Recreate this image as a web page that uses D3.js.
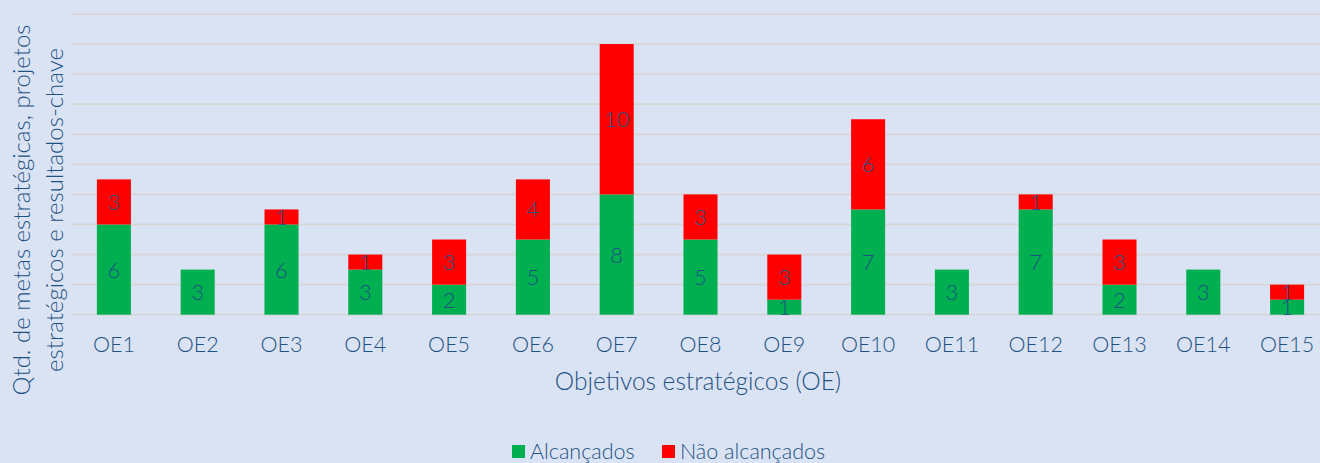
<!DOCTYPE html>
<html><head><meta charset="utf-8">
<script src="https://cdn.jsdelivr.net/npm/d3@7"></script>
<style>
html,body{margin:0;padding:0;background:#dae3f3;}
svg{display:block;}
text{font-family:Lato,"Open Sans",sans-serif;font-weight:300;fill:#1f5283;}
</style></head><body>
<svg id="c" width="1320" height="463"></svg>
<script>
const categories = ["OE1","OE2","OE3","OE4","OE5","OE6","OE7","OE8","OE9","OE10","OE11","OE12","OE13","OE14","OE15"];
const alcancados = [6,3,6,3,2,5,8,5,1,7,3,7,2,3,1];
const naoAlcancados = [3,0,1,1,3,4,10,3,3,6,0,1,3,0,1];
const seriesNames = ["Alcançados","Não alcançados"];
const gridTicks = [0,2,4,6,8,10,12,14,16,18,20];

const colors = ["#00b050","#ff0000"];
const svg = d3.select("#c");
const x = d3.scaleBand().domain(categories).range([72,1329]).paddingInner(0.594).paddingOuter(0.297);
const y = d3.scaleLinear().domain([0,20]).range([314.7,14]);

svg.append("g").selectAll("line").data(gridTicks).join("line")
  .attr("x1",72).attr("x2",1329)
  .attr("y1",d=>y(d)).attr("y2",d=>y(d))
  .attr("stroke","#d6d6d6").attr("stroke-width",1.75);

const rows = categories.map((c,i)=>({cat:c, a:alcancados[i], n:naoAlcancados[i]}));
const stack = d3.stack().keys(["a","n"])(rows);

stack.forEach((layer,li)=>{
  const g = svg.append("g");
  g.selectAll("rect").data(layer).join("rect")
    .attr("x",d=>x(d.data.cat)).attr("width",x.bandwidth())
    .attr("y",d=>y(d[1])).attr("height",d=>y(d[0])-y(d[1]))
    .attr("fill",colors[li]);
  g.selectAll("text").data(layer.filter(d=>d[1]-d[0]>0)).join("text")
    .attr("x",d=>x(d.data.cat)+x.bandwidth()/2)
    .attr("y",d=>(y(d[0])+y(d[1]))/2+8)
    .attr("text-anchor","middle").style("font-size","22px")
    .text(d=>d[1]-d[0]);
});

svg.append("g").selectAll("text").data(categories).join("text")
  .attr("x",d=>x(d)+x.bandwidth()/2).attr("y",352)
  .attr("text-anchor","middle").style("font-size","21.5px").text(d=>d);

svg.append("text").attr("x",698).attr("y",390).attr("text-anchor","middle")
  .style("font-size","24.5px").text("Objetivos estratégicos (OE)");

const yt = svg.append("text").attr("transform","translate(0,210) rotate(-90)").attr("text-anchor","middle").style("font-size","24px");
yt.append("tspan").attr("x",0).attr("y",30).text("Qtd. de metas estratégicas, projetos");
yt.append("tspan").attr("x",0).attr("y",63).text("estratégicos e resultados-chave");

const legX = [512,662];
const lg = svg.append("g");
seriesNames.forEach((s,i)=>{
  lg.append("rect").attr("x",legX[i]).attr("y",445).attr("width",13).attr("height",13).attr("fill",colors[i]);
  lg.append("text").attr("x",legX[i]+18).attr("y",459).style("font-size","21.5px").text(s);
});
</script>
</body></html>
